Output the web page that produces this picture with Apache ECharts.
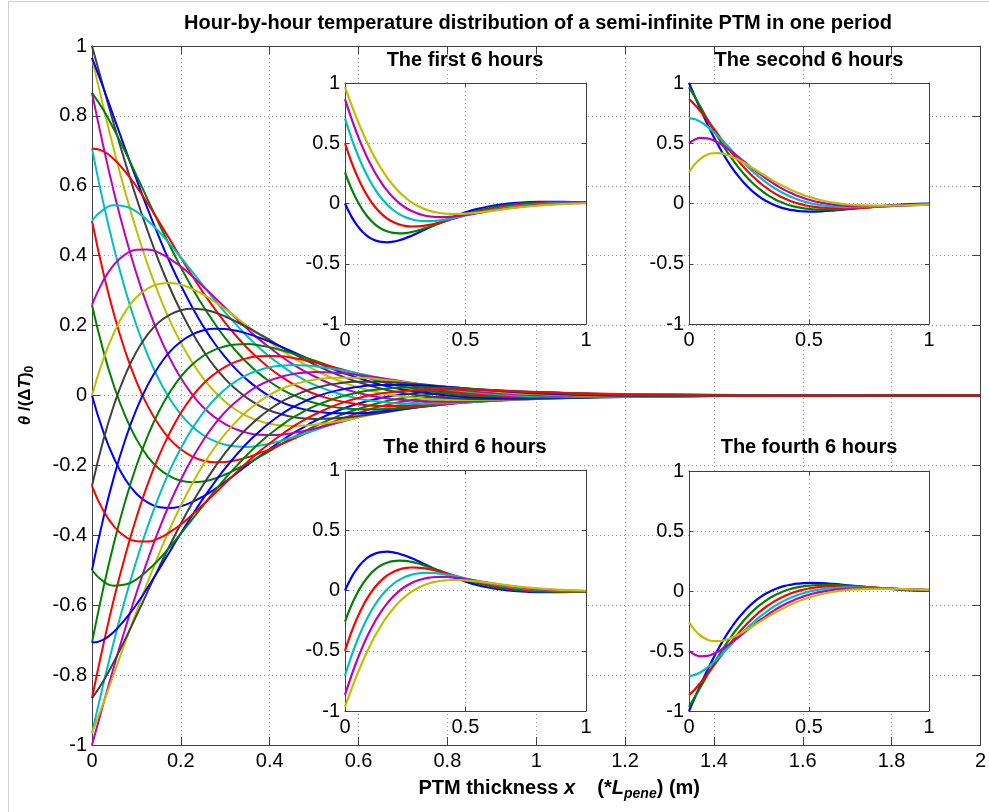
<!DOCTYPE html>
<html><head><meta charset="utf-8">
<script src="https://cdn.jsdelivr.net/npm/echarts/dist/echarts.min.js"></script>
<style>html,body{margin:0;padding:0;background:#fff}#chart{width:989px;height:812px}</style>
</head><body><div id="chart"></div>
<script>
// PTM thickness positions (x, in units of L_pene)
const thickness = [0, 0.025, 0.05, 0.075, 0.1, 0.125, 0.15, 0.175, 0.2, 0.225, 0.25, 0.275, 0.3, 0.325, 0.35, 0.375, 0.4, 0.425, 0.45, 0.475, 0.5, 0.55, 0.6, 0.65, 0.7, 0.8, 0.9, 1.0, 1.2, 1.5, 2.0];

// theta/(dT)0 read per hour: first 6 hours
const hour01 = [0, -0.102, -0.181, -0.240, -0.281, -0.306, -0.319, -0.322, -0.317, -0.305, -0.289, -0.269, -0.247, -0.223, -0.199, -0.176, -0.153, -0.131, -0.110, -0.092, -0.074, -0.045, -0.023, -0.007, 0.003, 0.013, 0.013, 0.010, 0.003, -0.001, 0];
const hour02 = [0.259, 0.130, 0.025, -0.059, -0.125, -0.174, -0.209, -0.231, -0.244, -0.248, -0.246, -0.238, -0.226, -0.211, -0.195, -0.177, -0.159, -0.140, -0.122, -0.105, -0.089, -0.061, -0.038, -0.020, -0.007, 0.007, 0.011, 0.009, 0.003, 0, 0];
const hour03 = [0.5, 0.354, 0.230, 0.126, 0.040, -0.029, -0.083, -0.125, -0.154, -0.174, -0.186, -0.191, -0.190, -0.185, -0.177, -0.166, -0.154, -0.140, -0.126, -0.112, -0.098, -0.072, -0.050, -0.031, -0.017, 0.000, 0.007, 0.008, 0.004, 0, 0];
const hour04 = [0.707, 0.554, 0.419, 0.302, 0.201, 0.117, 0.047, -0.009, -0.054, -0.088, -0.113, -0.130, -0.141, -0.146, -0.147, -0.144, -0.138, -0.130, -0.121, -0.111, -0.100, -0.078, -0.058, -0.040, -0.026, -0.006, 0.003, 0.006, 0.004, 0, 0];
const hour05 = [0.866, 0.716, 0.579, 0.457, 0.349, 0.255, 0.175, 0.107, 0.050, 0.004, -0.033, -0.061, -0.082, -0.097, -0.107, -0.112, -0.113, -0.112, -0.108, -0.102, -0.095, -0.079, -0.062, -0.047, -0.033, -0.012, -0.001, 0.004, 0.004, 0, 0];
const hour06 = [0.966, 0.829, 0.700, 0.581, 0.473, 0.376, 0.291, 0.215, 0.151, 0.096, 0.050, 0.012, -0.018, -0.042, -0.060, -0.072, -0.081, -0.085, -0.087, -0.086, -0.084, -0.075, -0.063, -0.050, -0.037, -0.017, -0.005, 0.002, 0.004, 0.001, 0];
// second 6 hours
const hour07 = [1, 0.885, 0.773, 0.666, 0.565, 0.472, 0.386, 0.309, 0.241, 0.181, 0.129, 0.084, 0.047, 0.017, -0.008, -0.028, -0.043, -0.053, -0.061, -0.065, -0.067, -0.065, -0.059, -0.050, -0.040, -0.021, -0.008, -0.001, 0.003, 0.001, 0];
const hour08 = [0.966, 0.882, 0.794, 0.705, 0.619, 0.535, 0.456, 0.382, 0.315, 0.254, 0.199, 0.151, 0.110, 0.074, 0.044, 0.019, -0.002, -0.018, -0.030, -0.039, -0.045, -0.051, -0.051, -0.046, -0.039, -0.024, -0.012, -0.004, 0.002, 0.001, 0];
const hour09 = [0.866, 0.818, 0.760, 0.697, 0.630, 0.562, 0.494, 0.429, 0.367, 0.309, 0.256, 0.208, 0.164, 0.126, 0.093, 0.064, 0.040, 0.019, 0.003, -0.010, -0.021, -0.034, -0.039, -0.039, -0.036, -0.025, -0.014, -0.006, 0.001, 0.001, 0];
const hour10 = [0.707, 0.699, 0.675, 0.640, 0.598, 0.550, 0.499, 0.447, 0.394, 0.344, 0.295, 0.250, 0.208, 0.170, 0.135, 0.105, 0.078, 0.055, 0.035, 0.019, 0.005, -0.014, -0.025, -0.030, -0.030, -0.024, -0.015, -0.008, 0.000, 0.001, 0];
const hour11 = [0.5, 0.531, 0.544, 0.541, 0.526, 0.501, 0.470, 0.434, 0.395, 0.355, 0.315, 0.275, 0.237, 0.202, 0.169, 0.138, 0.111, 0.087, 0.065, 0.047, 0.031, 0.007, -0.009, -0.018, -0.023, -0.022, -0.016, -0.009, -0.001, 0.001, 0];
const hour12 = [0.259, 0.328, 0.375, 0.404, 0.417, 0.418, 0.409, 0.391, 0.369, 0.342, 0.312, 0.282, 0.251, 0.220, 0.190, 0.162, 0.137, 0.113, 0.091, 0.072, 0.055, 0.027, 0.007, -0.006, -0.013, -0.018, -0.015, -0.010, -0.002, 0.001, 0];
// third 6 hours
const hour13 = [0, 0.102, 0.181, 0.240, 0.281, 0.306, 0.319, 0.322, 0.317, 0.305, 0.289, 0.269, 0.247, 0.223, 0.199, 0.176, 0.153, 0.131, 0.110, 0.092, 0.074, 0.045, 0.023, 0.007, -0.003, -0.013, -0.013, -0.010, -0.003, 0.001, 0];
const hour14 = [-0.259, -0.130, -0.025, 0.059, 0.125, 0.174, 0.209, 0.231, 0.244, 0.248, 0.246, 0.238, 0.226, 0.211, 0.195, 0.177, 0.159, 0.140, 0.122, 0.105, 0.089, 0.061, 0.038, 0.020, 0.007, -0.007, -0.011, -0.009, -0.003, 0, 0];
const hour15 = [-0.5, -0.354, -0.230, -0.126, -0.040, 0.029, 0.083, 0.125, 0.154, 0.174, 0.186, 0.191, 0.190, 0.185, 0.177, 0.166, 0.154, 0.140, 0.126, 0.112, 0.098, 0.072, 0.050, 0.031, 0.017, 0.000, -0.007, -0.008, -0.004, 0, 0];
const hour16 = [-0.707, -0.554, -0.419, -0.302, -0.201, -0.117, -0.047, 0.009, 0.054, 0.088, 0.113, 0.130, 0.141, 0.146, 0.147, 0.144, 0.138, 0.130, 0.121, 0.111, 0.100, 0.078, 0.058, 0.040, 0.026, 0.006, -0.003, -0.006, -0.004, 0, 0];
const hour17 = [-0.866, -0.716, -0.579, -0.457, -0.349, -0.255, -0.175, -0.107, -0.050, -0.004, 0.033, 0.061, 0.082, 0.097, 0.107, 0.112, 0.113, 0.112, 0.108, 0.102, 0.095, 0.079, 0.062, 0.047, 0.033, 0.012, 0.001, -0.004, -0.004, 0, 0];
const hour18 = [-0.966, -0.829, -0.700, -0.581, -0.473, -0.376, -0.291, -0.215, -0.151, -0.096, -0.050, -0.012, 0.018, 0.042, 0.060, 0.072, 0.081, 0.085, 0.087, 0.086, 0.084, 0.075, 0.063, 0.050, 0.037, 0.017, 0.005, -0.002, -0.004, -0.001, 0];
// fourth 6 hours
const hour19 = [-1, -0.885, -0.773, -0.666, -0.565, -0.472, -0.386, -0.309, -0.241, -0.181, -0.129, -0.084, -0.047, -0.017, 0.008, 0.028, 0.043, 0.053, 0.061, 0.065, 0.067, 0.065, 0.059, 0.050, 0.040, 0.021, 0.008, 0.001, -0.003, -0.001, 0];
const hour20 = [-0.966, -0.882, -0.794, -0.705, -0.619, -0.535, -0.456, -0.382, -0.315, -0.254, -0.199, -0.151, -0.110, -0.074, -0.044, -0.019, 0.002, 0.018, 0.030, 0.039, 0.045, 0.051, 0.051, 0.046, 0.039, 0.024, 0.012, 0.004, -0.002, -0.001, 0];
const hour21 = [-0.866, -0.818, -0.760, -0.697, -0.630, -0.562, -0.494, -0.429, -0.367, -0.309, -0.256, -0.208, -0.164, -0.126, -0.093, -0.064, -0.040, -0.019, -0.003, 0.010, 0.021, 0.034, 0.039, 0.039, 0.036, 0.025, 0.014, 0.006, -0.001, -0.001, 0];
const hour22 = [-0.707, -0.699, -0.675, -0.640, -0.598, -0.550, -0.499, -0.447, -0.394, -0.344, -0.295, -0.250, -0.208, -0.170, -0.135, -0.105, -0.078, -0.055, -0.035, -0.019, -0.005, 0.014, 0.025, 0.030, 0.030, 0.024, 0.015, 0.008, 0.000, -0.001, 0];
const hour23 = [-0.5, -0.531, -0.544, -0.541, -0.526, -0.501, -0.470, -0.434, -0.395, -0.355, -0.315, -0.275, -0.237, -0.202, -0.169, -0.138, -0.111, -0.087, -0.065, -0.047, -0.031, -0.007, 0.009, 0.018, 0.023, 0.022, 0.016, 0.009, 0.001, -0.001, 0];
const hour24 = [-0.259, -0.328, -0.375, -0.404, -0.417, -0.418, -0.409, -0.391, -0.369, -0.342, -0.312, -0.282, -0.251, -0.220, -0.190, -0.162, -0.137, -0.113, -0.091, -0.072, -0.055, -0.027, -0.007, 0.006, 0.013, 0.018, 0.015, 0.010, 0.002, -0.001, 0];

const hours = [hour01, hour02, hour03, hour04, hour05, hour06, hour07, hour08, hour09, hour10, hour11, hour12,
               hour13, hour14, hour15, hour16, hour17, hour18, hour19, hour20, hour21, hour22, hour23, hour24];

const mainTitle = 'Hour-by-hour temperature distribution of a semi-infinite PTM in one period';
const insetTitles = ['The first 6 hours', 'The second 6 hours', 'The third 6 hours', 'The fourth 6 hours'];

const mainColors = ['#0000ff', '#008000', '#ff0000', '#00bfbf', '#bf00bf', '#bfbf00', '#404040'];
const insetColors = ['#0000ff', '#008000', '#ff0000', '#00bfbf', '#bf00bf', '#bfbf00'];

const FONT = 'Liberation Sans, Arial, sans-serif';
const AXIS = '#404040';
const GRIDLINE = '#9a9a9a';

const grids = [
  {left: 92, top: 46, width: 889, height: 699},
  {left: 345, top: 83, width: 241, height: 241},
  {left: 689, top: 83, width: 240, height: 241},
  {left: 345, top: 470, width: 241, height: 241},
  {left: 689, top: 471, width: 240, height: 240}
];

const xAxes = [], yAxes = [];
grids.forEach((g, gi) => {
  const main = gi === 0;
  const z = main ? 0 : 4;
  const tick = main ? 8 : 4;
  const base = {
    type: 'value', gridIndex: gi, z: z,
    axisLine: {show: true, onZero: false, lineStyle: {color: AXIS, width: 1}},
    axisTick: {show: true, inside: true, length: tick, lineStyle: {color: AXIS, width: 1}},
    axisLabel: {show: true, margin: 6, color: '#000', fontSize: 20, fontFamily: FONT, showMinLabel: true, showMaxLabel: true},
    splitLine: {show: true, lineStyle: {type: [1, 3], color: GRIDLINE, width: 1}}
  };
  const xr = main ? {min: 0, max: 2, interval: 0.2} : {min: 0, max: 1, interval: 0.5};
  const yr = main ? {min: -1, max: 1, interval: 0.2} : {min: -1, max: 1, interval: 0.5};
  const xb = Object.assign({}, base, xr, {position: 'bottom'});
  const xt = Object.assign({}, base, xr, {position: 'top', axisLabel: {show: false}, splitLine: {show: false}});
  const yl = Object.assign({}, base, yr, {position: 'left', axisLabel: Object.assign({}, base.axisLabel, {margin: 5})});
  const yr2 = Object.assign({}, base, yr, {position: 'right', axisLabel: {show: false}, splitLine: {show: false}});
  if (main) {
    xb.name = '{b|PTM thickness }{bi|x}{b|    (*}{bi|L}{sub|pene}{b|) (m)}';
    xb.nameLocation = 'middle';
    xb.nameGap = 30;
    xb.nameTextStyle = {
      padding: [0, 0, 0, 46],
      rich: {
        b: {fontSize: 20, fontWeight: 'bold', fontFamily: FONT, color: '#000'},
        bi: {fontSize: 20, fontWeight: 'bold', fontStyle: 'italic', fontFamily: FONT, color: '#000'},
        sub: {fontSize: 14, fontWeight: 'bold', fontStyle: 'italic', fontFamily: FONT, color: '#000', padding: [12, 0, 0, 0]}
      }
    };
    yl.name = '{i|θ}{n| /(Δ}{i|T}{n|)}{sub|0}';
    yl.nameLocation = 'middle';
    yl.nameGap = 56;
    yl.nameRotate = 90;
    yl.nameTextStyle = {
      rich: {
        i: {fontSize: 17, fontWeight: 'bold', fontStyle: 'italic', fontFamily: FONT, color: '#000'},
        n: {fontSize: 17, fontWeight: 'bold', fontFamily: FONT, color: '#000'},
        sub: {fontSize: 12, fontWeight: 'bold', fontFamily: FONT, color: '#000', padding: [10, 0, 0, 0]}
      }
    };
  }
  xAxes.push(xb, xt);
  yAxes.push(yl, yr2);
});

function pairs(arr, maxX) {
  const out = [];
  thickness.forEach((x, k) => { if (x <= maxX) out.push([x, arr[k]]); });
  return out;
}

const series = [];
hours.forEach((arr, i) => {
  series.push({
    type: 'line', name: 'hour ' + (i + 1), xAxisIndex: 0, yAxisIndex: 0,
    data: pairs(arr, 2), smooth: 0.5, showSymbol: false, symbol: 'none', silent: true,
    lineStyle: {width: 2, color: mainColors[i % 7]}, itemStyle: {color: mainColors[i % 7]}, z: 2
  });
});
for (let g = 0; g < 4; g++) {
  for (let j = 0; j < 6; j++) {
    const i = g * 6 + j;
    series.push({
      type: 'line', name: 'inset ' + (g + 1) + ' hour ' + (i + 1), xAxisIndex: 2 * (g + 1), yAxisIndex: 2 * (g + 1),
      data: pairs(hours[i], 1), smooth: 0.5, showSymbol: false, symbol: 'none', silent: true,
      lineStyle: {width: 2.2, color: insetColors[j]}, itemStyle: {color: insetColors[j]}, z: 5
    });
  }
}

const titleStyle = {fontSize: 20, fontWeight: 'bold', color: '#000', fontFamily: FONT};
const titleCenters = [[465, 60], [809, 60], [465, 447], [809, 447]];
const titles = [{text: mainTitle, left: 538, top: 23, textAlign: 'center', textVerticalAlign: 'middle', padding: 0, textStyle: titleStyle}];
insetTitles.forEach((t, k) => {
  titles.push({text: t, left: titleCenters[k][0], top: titleCenters[k][1], textAlign: 'center', textVerticalAlign: 'middle', padding: 0, textStyle: titleStyle});
});

const chart = echarts.init(document.getElementById('chart'), null, {renderer: 'canvas'});
chart.setOption({
  backgroundColor: '#fff',
  animation: false,
  title: titles,
  grid: grids.map((g, gi) => Object.assign({}, g, gi === 0 ? {show: false} : {show: true, backgroundColor: '#fff', borderWidth: 0, z: 3})),
  xAxis: xAxes,
  yAxis: yAxes,
  series: series,
  graphic: [
    {type: 'line', shape: {x1: 8, y1: 1.5, x2: 989, y2: 1.5}, style: {stroke: '#d0d0d0', lineWidth: 1}, silent: true},
    {type: 'line', shape: {x1: 8.5, y1: 1, x2: 8.5, y2: 812}, style: {stroke: '#d0d0d0', lineWidth: 1}, silent: true}
  ]
});
</script></body></html>
